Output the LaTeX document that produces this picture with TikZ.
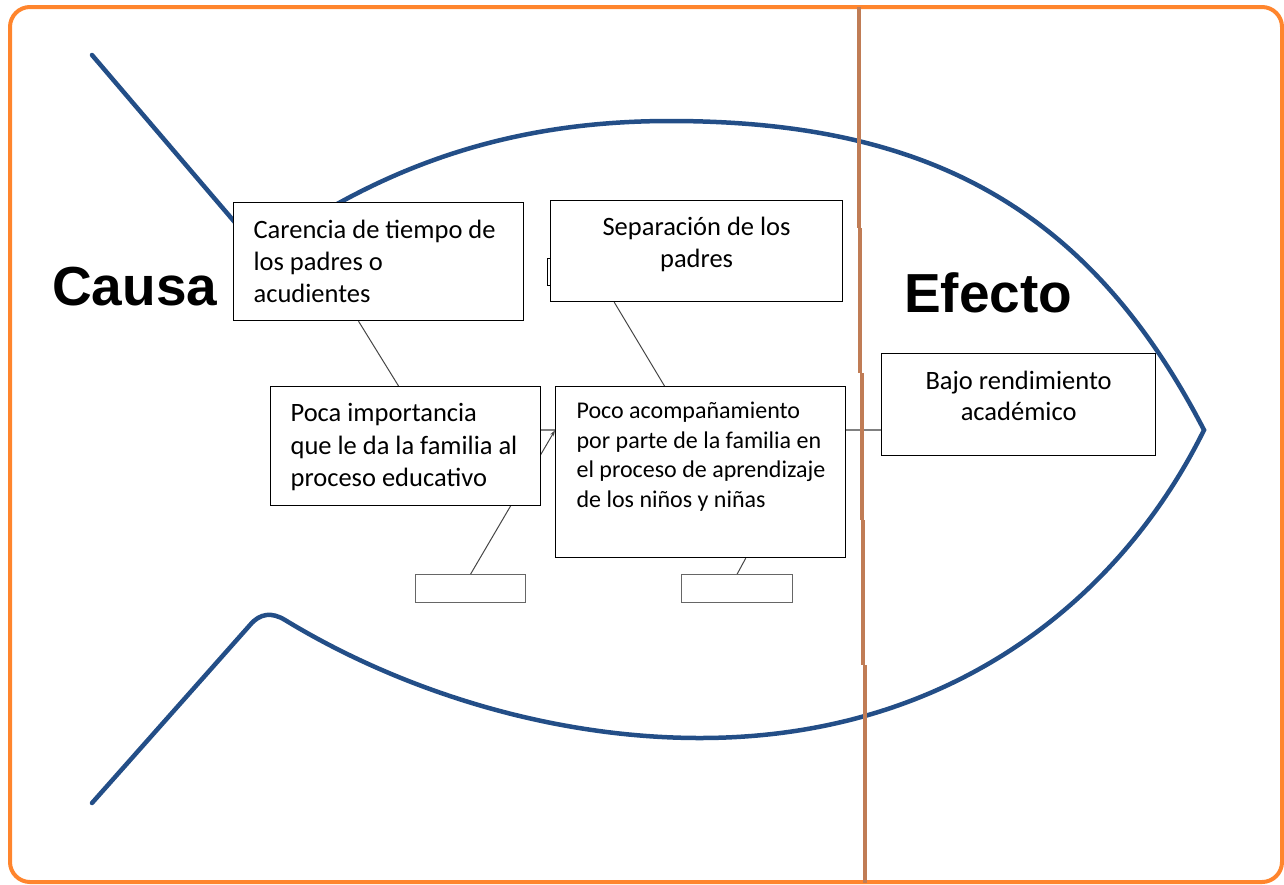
\documentclass[tikz,border=0pt]{standalone}
\usepackage{fontspec}
\setmainfont{Carlito}
\newfontfamily\headfont{Liberation Sans}
\usetikzlibrary{arrows.meta,calc}
\definecolor{fishblue}{RGB}{35,78,135}
\definecolor{frameorange}{RGB}{255,133,45}
\definecolor{dividerbrown}{RGB}{192,124,85}
\definecolor{spinegray}{RGB}{128,128,128}
\definecolor{linkgray}{RGB}{70,70,70}
\pgfdeclarelayer{bg}
\pgfdeclarelayer{fg}
\pgfsetlayers{bg,main,fg}
% width, height, setup, first-baseline offset, text
\newcommand{\bxtext}[5]{\parbox[c][#2][t]{#1}{#3\vspace*{\dimexpr#4-\ht\strutbox\relax}\strut #5}}
\newcommand{\bigtxt}[1]{\fontsize{26.5}{#1}\selectfont}
\tikzset{
  fish/.style={draw=fishblue, line width=4.5pt, line cap=round, line join=miter},
  frame/.style={draw=frameorange, line width=4pt, rounded corners=20pt},
  divider/.style={draw=dividerbrown, line width=4pt},
  box/.style={draw=black, line width=1.2pt, fill=white, inner sep=0pt, anchor=north west},
  smallbox/.style={draw=black!60, line width=1.3pt, fill=white, inner sep=0pt, anchor=north west, minimum width=110pt, minimum height=28pt},
  link/.style={draw=linkgray, line width=1pt},
  spine/.style={draw=spinegray, line width=2pt},
  headtxt/.style={font=\headfont\bfseries\fontsize{55}{60}\selectfont, inner sep=0pt, anchor=base west}
}
\begin{document}
\begin{tikzpicture}[x=1pt,y=-1pt]
\useasboundingbox (0,0) rectangle (1284,884);

% boxes
\node[box, minimum width=100pt, minimum height=27pt] (hidden) at (547,258) {};
\node[box] (carencia) at (233,202) {\bxtext{290pt}{118pt}{\bigtxt{32}\raggedright\leftskip=20pt}{36pt}{Carencia de tiempo de\\los padres o\\acudientes}};
\node[box] (sep) at (550,200) {\bxtext{292pt}{101pt}{\bigtxt{32}\centering}{35pt}{Separación de los\\padres}};
\node[box] (poca) at (270,386) {\bxtext{270pt}{119pt}{\bigtxt{32.5}\raggedright\leftskip=20pt}{35pt}{Poca importancia\\que le da la familia al\\proceso educativo}};
\node[box] (poco) at (555,386) {\bxtext{290pt}{171pt}{\fontsize{24}{29.5}\selectfont\raggedright\leftskip=21pt}{32pt}{Poco acompañamiento\\por parte de la familia en\\el proceso de aprendizaje\\de los niños y niñas}};
\node[box] (bajo) at (881,353) {\bxtext{274pt}{102pt}{\bigtxt{31}\centering}{36pt}{Bajo rendimiento\\académico}};
\node[smallbox] (s1) at (415,574) {};
\node[smallbox, minimum width=111pt] (s2) at (681,574) {};

\node[headtxt] (causa) at (52,305) {Causa};
\node[headtxt] (efecto) at (904,312) {Efecto};

\begin{pgfonlayer}{bg}
\draw[frame] (10,7) rectangle (1282,882);
\draw[fish] (92,55) -- (250,240);
\draw[fish] (300,226) .. controls (420,150) and (540,121) .. (670,121)
  .. controls (930,121) and (1090,210) .. (1204,430)
  .. controls (1120,600) and (950,738) .. (700,738)
  .. controls (550,738) and (400,690) .. (285,620)
  .. controls (272,612) and (260,613) .. (250,625) -- (92,803);
\coordinate (spineY) at (0,430);
\draw[spine] (poca.east |- spineY) -- (bajo.west |- spineY);
\draw[link] ($(carencia.south west)!0.431!(carencia.south east)$) -- ($(poca.north west)!0.474!(poca.north east)$);
\draw[link] ($(sep.south west)!0.219!(sep.south east)$) -- ($(poco.north west)!0.376!(poco.north east)$);
\draw[link, -{Stealth[length=6pt,width=4pt]}] (s1.north) -- ($(poco.north west)!0.257!(poco.south west)$);
\draw[link] (s2.north) -- ($(poco.south west)!0.655!(poco.south east)$);
\end{pgfonlayer}

\begin{pgfonlayer}{fg}
\draw[divider] (858.5,7) -- (858.5,228);
\draw[divider] (860,228) -- (860,373);
\draw[divider] (861.5,373) -- (861.5,520);
\draw[divider] (863,520) -- (863,665);
\draw[divider] (864.5,665) -- (864.5,883);
\end{pgfonlayer}
\end{tikzpicture}
\end{document}
